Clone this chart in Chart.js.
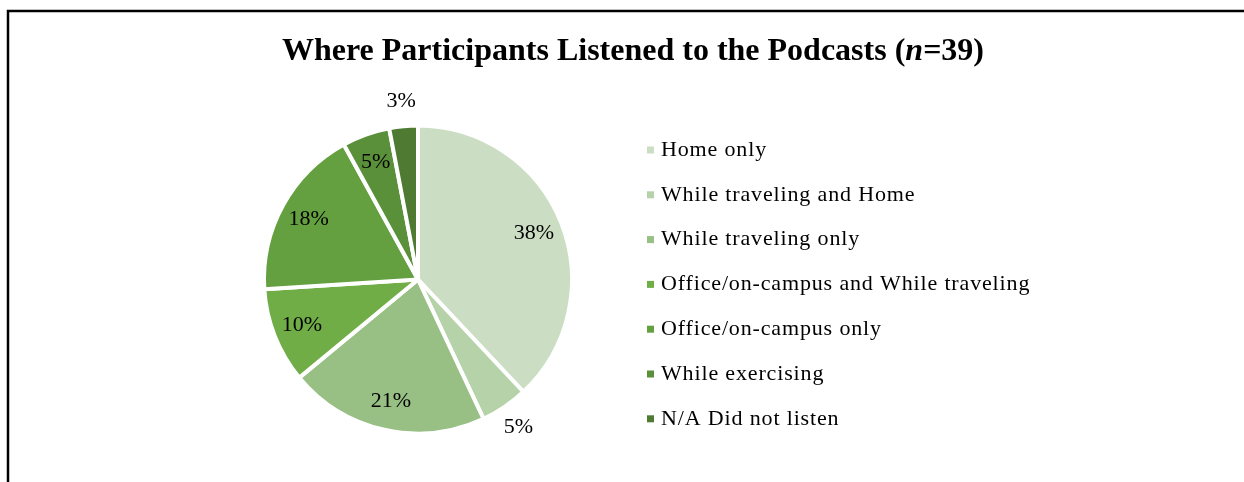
<!DOCTYPE html>
<html>
<head>
<meta charset="utf-8">
<title>Where Participants Listened to the Podcasts</title>
<script src="https://cdn.jsdelivr.net/npm/chart.js@4/dist/chart.umd.min.js"></script>
<style>
  html, body { margin: 0; padding: 0; background: #ffffff; }
  #wrap { width: 1244px; height: 482px; position: relative; }
</style>
</head>
<body>
<div id="wrap"><canvas id="chart" width="1244" height="482"></canvas></div>
<script>
// Listening locations and share of respondents (percent, n = 39)
const categories = [
  'Home only',
  'While traveling and Home',
  'While traveling only',
  'Office/on-campus and While traveling',
  'Office/on-campus only',
  'While exercising',
  'N/A Did not listen'
];
const percentages = [38, 5, 21, 10, 18, 5, 3];
const sliceColors = ['#CBDEC3', '#B5D2A8', '#98BF84', '#70AD47', '#64A040', '#5A903A', '#4E7B31'];

// Which percentage labels sit outside the pie rim
const labelOutside = [false, true, false, false, false, false, true];

const SERIF = "'Times New Roman', 'Liberation Serif', serif";

// Frame, title, slice labels and legend drawn on the chart canvas
const decorations = {
  id: 'decorations',
  afterDraw(chart) {
    const ctx = chart.ctx;
    ctx.save();

    // frame (top and left edges)
    ctx.strokeStyle = '#000000';
    ctx.lineWidth = 2.5;
    ctx.beginPath();
    ctx.moveTo(8, 482);
    ctx.lineTo(8, 11);
    ctx.lineTo(1244, 11);
    ctx.stroke();

    // title with italic n
    const parts = [
      { t: 'Where Participants Listened to the Podcasts (', f: 'bold 32px ' + SERIF },
      { t: 'n', f: 'italic bold 32px ' + SERIF },
      { t: '=39)', f: 'bold 32px ' + SERIF }
    ];
    let total = 0;
    parts.forEach(p => { ctx.font = p.f; p.w = ctx.measureText(p.t).width; total += p.w; });
    let x = 633 - total / 2;
    ctx.fillStyle = '#000000';
    ctx.textBaseline = 'alphabetic';
    ctx.textAlign = 'left';
    parts.forEach(p => { ctx.font = p.f; ctx.fillText(p.t, x, 60); x += p.w; });

    // percentage labels
    const meta = chart.getDatasetMeta(0);
    ctx.font = '22px ' + SERIF;
    ctx.textAlign = 'center';
    ctx.textBaseline = 'middle';
    meta.data.forEach((arc, i) => {
      const p = arc.getProps(['x', 'y', 'startAngle', 'endAngle', 'outerRadius'], true);
      const mid = (p.startAngle + p.endAngle) / 2;
      const r = p.outerRadius * (labelOutside[i] ? 1.16 : 0.81);
      const lx = p.x + Math.cos(mid) * r;
      const ly = p.y + Math.sin(mid) * r;
      ctx.fillText(percentages[i] + '%', lx, ly);
    });

    // legend
    ctx.font = '22px ' + SERIF;
    ctx.letterSpacing = '0.85px';
    ctx.textAlign = 'left';
    ctx.textBaseline = 'middle';
    chart.data.labels.forEach((label, i) => {
      const cy = 150 + i * 44.8;
      ctx.fillStyle = chart.data.datasets[0].backgroundColor[i];
      ctx.fillRect(647, cy - 3.5, 7, 7);
      ctx.fillStyle = '#000000';
      ctx.fillText(label, 661, cy);
    });
    ctx.letterSpacing = '0px';

    ctx.restore();
  }
};

new Chart(document.getElementById('chart'), {
  type: 'pie',
  data: {
    labels: categories,
    datasets: [{
      data: percentages,
      backgroundColor: sliceColors,
      borderColor: '#ffffff',
      borderWidth: 4
    }]
  },
  options: {
    responsive: false,
    animation: false,
    layout: { padding: { left: 262, right: 670, top: 123, bottom: 46 } },
    plugins: {
      legend: { display: false },
      title: { display: false },
      tooltip: { enabled: false }
    }
  },
  plugins: [decorations]
});
</script>
</body>
</html>
